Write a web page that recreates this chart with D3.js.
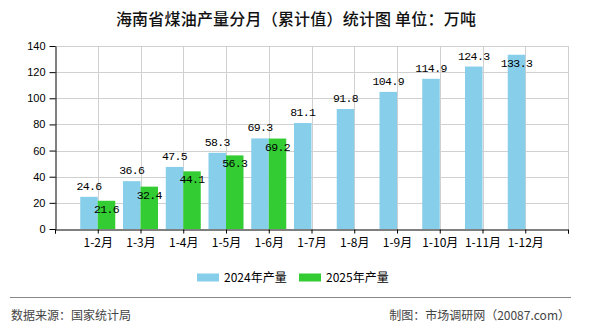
<!DOCTYPE html>
<html>
<head>
<meta charset="utf-8">
<script src="https://cdn.jsdelivr.net/npm/d3@7/dist/d3.min.js"></script>
<style>
  html, body { margin: 0; padding: 0; background: #fff; }
  svg { display: block; }
</style>
</head>
<body>
<svg id="chart" width="590" height="330"></svg>
<script>
// Monthly cumulative kerosene output, Hainan (10k tonnes)
const categories = ["1-2月", "1-3月", "1-4月", "1-5月", "1-6月", "1-7月", "1-8月", "1-9月", "1-10月", "1-11月", "1-12月"];
const values2024 = [24.6, 36.6, 47.5, 58.3, 69.3, 81.1, 91.8, 104.9, 114.9, 124.3, 133.3];
const values2025 = [21.6, 32.4, 44.1, 56.3, 69.2];
const yTicks = [0, 20, 40, 60, 80, 100, 120, 140];
const seriesNames = ["2024年产量", "2025年产量"];
const colors = ["#87CEEB", "#33CC33"];

const cjk = "'Noto Sans CJK SC', 'Noto Sans', sans-serif";
const mono = "'Liberation Mono', 'DejaVu Sans Mono', monospace";

const svg = d3.select("#chart");
const plotLeft = 55, plotRight = 568, plotTop = 46, plotBottom = 229;
const barW = 17.5;

const x = d3.scalePoint().domain(categories).range([plotLeft, plotRight]).padding(1);
const y = d3.scaleLinear().domain([0, 140]).range([plotBottom, plotTop]);

// Title
svg.append("text")
  .attr("x", 296).attr("y", 25)
  .attr("text-anchor", "middle")
  .style("font-family", cjk).style("font-size", "16px").style("font-weight", "500")
  .style("letter-spacing", "0.2px")
  .attr("fill", "#111")
  .text("海南省煤油产量分月（累计值）统计图 单位：万吨");

// Grid
const grid = svg.append("g").attr("stroke", "#d0d0d0").attr("stroke-width", 1);
yTicks.filter(t => t > 0).forEach(t => {
  grid.append("line").attr("x1", plotLeft).attr("x2", plotRight)
    .attr("y1", Math.round(y(t)) + 0.5).attr("y2", Math.round(y(t)) + 0.5);
});
categories.forEach(c => {
  grid.append("line").attr("x1", Math.round(x(c)) + 0.5).attr("x2", Math.round(x(c)) + 0.5)
    .attr("y1", plotTop).attr("y2", plotBottom);
});
grid.append("line").attr("x1", plotRight + 0.5).attr("x2", plotRight + 0.5).attr("y1", plotTop).attr("y2", plotBottom);

// Bars
const series = [values2024, values2025];
series.forEach((vals, si) => {
  svg.append("g").selectAll("rect").data(vals).join("rect")
    .attr("x", (d, i) => x(categories[i]) + (si === 0 ? -barW : 0))
    .attr("y", d => y(d))
    .attr("width", barW)
    .attr("height", d => y(0) - y(d))
    .attr("fill", colors[si]);
});

// Value labels
series.forEach((vals, si) => {
  svg.append("g").selectAll("text").data(vals).join("text")
    .attr("x", (d, i) => x(categories[i]) + (si === 0 ? -barW / 2 : barW / 2))
    .attr("y", d => {
      if (si === 1) return y(d) + 12;
      const above = y(d) - 7;
      return above - 8 < plotTop ? y(d) + 12 : above;
    })
    .attr("text-anchor", "middle")
    .style("font-family", mono).style("font-size", "11.5px").style("letter-spacing", "-0.6px")
    .attr("fill", "#000")
    .text(d => d.toFixed(1));
});

// Y axis
const yAxis = svg.append("g")
  .attr("transform", `translate(${plotLeft + 0.5},0)`)
  .call(d3.axisLeft(y).tickValues(yTicks).tickSize(6).tickPadding(4).tickSizeOuter(0));
yAxis.select(".domain").attr("stroke", "#000");
yAxis.selectAll(".tick line").attr("stroke", "#000");
yAxis.selectAll("text").style("font-family", "'Liberation Sans', Arial, sans-serif")
  .style("font-size", "11px").attr("fill", "#000");

// X axis
const xAxis = svg.append("g")
  .attr("transform", `translate(0,${plotBottom + 0.5})`)
  .call(d3.axisBottom(x).tickSize(4).tickPadding(5).tickSizeOuter(4));
xAxis.select(".domain").attr("stroke", "#000");
xAxis.selectAll(".tick line").attr("stroke", "#000");
xAxis.selectAll("text").style("font-family", cjk).style("font-size", "12px").attr("fill", "#000");
// end ticks
[plotLeft, plotRight].forEach(px => {
  xAxis.append("line").attr("x1", px + 0.5).attr("x2", px + 0.5).attr("y1", 0).attr("y2", 4).attr("stroke", "#000");
});

// Legend
const legend = svg.append("g");
const legendX = [197, 299];
seriesNames.forEach((name, i) => {
  legend.append("rect").attr("x", legendX[i]).attr("y", 273.5).attr("width", 22).attr("height", 8).attr("fill", colors[i]);
  legend.append("text").attr("x", legendX[i] + 27).attr("y", 282)
    .style("font-family", cjk).style("font-size", "12px").attr("fill", "#000")
    .text(name);
});

// Footer
svg.append("line").attr("x1", 10).attr("x2", 571).attr("y1", 297.5).attr("y2", 297.5)
  .attr("stroke", "#888").attr("stroke-width", 1);
svg.append("text").attr("x", 11).attr("y", 320)
  .style("font-family", cjk).style("font-size", "12px").attr("fill", "#444")
  .text("数据来源：国家统计局");
svg.append("text").attr("x", 570).attr("y", 320).attr("text-anchor", "end")
  .style("font-family", cjk).style("font-size", "12px").attr("fill", "#444")
  .text("制图：市场调研网（20087.com）");
</script>
</body>
</html>
